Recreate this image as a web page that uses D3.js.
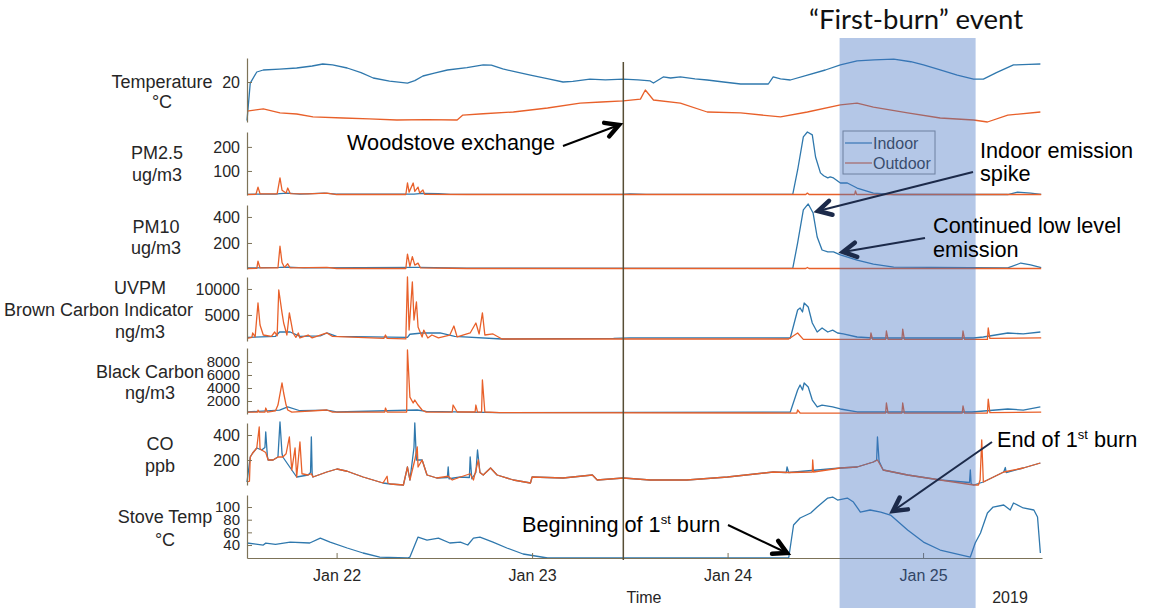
<!DOCTYPE html>
<html>
<head>
<meta charset="utf-8">
<script src="https://cdn.jsdelivr.net/npm/d3@7"></script>
<style>
body { margin: 0; background: #fff; }
svg { display: block; font-family: "Liberation Sans", Arial, sans-serif; }
</style>
</head>
<body>
<svg id="plot" width="1152" height="608"></svg>
<script>
// times are hours since Jan 21 2019 00:00
const startHour = 13, endHour = 110.6;
const dayTicks = [24, 48, 72, 96];
const exchangeHour = 59.2;
const burnStart = 85.75, burnEnd = 102.45;
const seriesNames = ["Indoor", "Outdoor"];

const tempIndoor = [[13.0,5.5],[13.4,19.6],[14.2,23.75],[15.0,24.5],[17,24.8],[19.1,25.25],[21,26],[22.3,26.75],[23.5,26.4],[25.3,25.25],[27,23.5],[28.5,21.5],[30.5,20.3],[32.7,19.6],[33.6,20.5],[34.6,22.25],[36,23.3],[37.6,24.5],[40,25.4],[42.0,26.4],[43,26.3],[44.4,24.9],[46,23.8],[47.8,22.6],[50,21.2],[51.8,20.0],[53,20.2],[55.1,21.1],[57,20.8],[59.2,21.1],[61,20.8],[62.5,20.4],[62.9,19.6],[64.1,21.9],[65,21.5],[66.2,21.9],[68,21.2],[69.5,20.75],[71.5,20.0],[73.6,19.25],[77.0,19.25],[77.6,21.9],[78.5,21.2],[79.7,20.75],[81.8,22.6],[84,24.5],[85.85,26.4],[87.9,27.9],[90,28.3],[92.4,28.6],[94.5,27.6],[96.05,26.4],[98,24.6],[100.2,22.6],[102.2,21.1],[103.4,21.1],[105,23.5],[107.1,26.4],[109,26.6],[110.4,26.75]];
const tempOutdoor = [[13.0,9.1],[15.0,9.9],[17.05,8.4],[19.1,8.0],[21.1,6.9],[24.8,6.5],[28,6.2],[31.4,5.75],[35,5.9],[38.8,5.75],[39.5,7.6],[42,8.1],[45.7,8.75],[49.9,10.25],[53.9,12.1],[56.5,12.5],[59.2,12.9],[61.3,13.6],[61.9,17.0],[62.9,13.25],[66.2,12.1],[69.5,8.75],[73.6,8.4],[78.5,6.9],[81.8,8.75],[85.85,11.4],[87.9,12.1],[89.9,10.6],[94.1,8.4],[98.1,6.5],[102.2,5.75],[103.9,5.0],[106.4,7.6],[110.4,8.75]];

const pm25Indoor = [[13.0,3],[16.5,4],[17.0,6],[18.0,8],[19.5,4],[22.5,8],[24,4],[33.5,4],[34.5,7],[36.5,6],[38,3],[59,3],[60,5],[62,3],[80.0,3],[80.6,104],[81.3,242],[81.8,262],[82.4,250],[82.8,158],[83.4,92],[83.8,80],[84.3,71],[84.6,75],[85.0,71],[85.85,50],[86.7,50],[87.9,29],[89.9,8],[92.4,2],[106.4,2],[107.6,12],[109.2,8],[110.5,3]];
const pm25Outdoor = [[13.0,2],[14.1,3],[14.35,33],[14.6,5],[16.7,5],[17.05,71],[17.3,20],[17.8,8],[18.0,29],[18.3,6],[20.5,5],[22.8,8],[24,2],[32.5,2],[32.7,50],[32.9,12],[33.4,50],[33.6,15],[34.0,33],[34.2,8],[34.6,21],[34.8,3],[40,2],[81.6,2],[81.8,8],[82,2],[87.6,2],[87.7,17],[87.85,2],[110.5,2]];

const pm10Indoor = [[13.0,8],[17,12],[18,15],[20,8],[34,12],[36,10],[40,6],[80.0,5],[80.6,200],[81.3,454],[81.9,500],[82.5,430],[83.0,246],[83.6,146],[84.3,131],[85.0,131],[85.85,108],[87.9,69],[89.9,38],[92.4,15],[106.4,8],[108.0,46],[109.2,31],[110.5,10]];
const pm10Outdoor = [[13.0,4],[14.2,5],[14.35,60],[14.6,8],[16.8,8],[17.05,175],[17.3,50],[17.6,12],[18.0,40],[18.3,8],[22.8,12],[24,4],[32.5,4],[32.7,115],[33.0,20],[33.3,95],[33.6,30],[34.0,45],[34.3,8],[40,4],[81.6,4],[81.8,12],[82,4],[110.5,4]];

const uvpmIndoor = [[13.0,700],[16.5,900],[17.0,1730],[18.3,1730],[19.5,900],[22.0,1000],[22.8,1540],[24,900],[32.7,700],[33.0,1300],[34.5,1540],[36.7,1540],[38.5,900],[44.3,380],[58,500],[60,600],[79.7,580],[80.6,5960],[80.9,6350],[81.2,5580],[81.4,7300],[81.9,6540],[82.4,3460],[83.0,1730],[83.6,2500],[84.3,1730],[84.9,2100],[85.5,1540],[86.2,1350],[87.9,770],[89.9,580],[102.2,580],[103.4,770],[106.4,1540],[108.3,1350],[110.4,1730]];
const uvpmOutdoor = [[13.0,500],[13.6,700],[13.7,1540],[14.0,800],[14.35,7300],[14.6,3080],[15.0,1150],[16.0,900],[16.4,1730],[16.7,1000],[16.9,9800],[17.3,5400],[17.5,3460],[17.9,1150],[18.2,5400],[18.65,1540],[19.0,700],[19.3,1540],[19.5,580],[20.5,1150],[21.0,600],[22.8,1540],[23.5,900],[29.8,500],[30.0,1150],[30.2,500],[32.5,400],[32.7,12300],[32.9,2100],[33.3,11350],[33.5,4040],[33.8,7500],[34.0,2700],[34.5,770],[34.7,2100],[35.2,580],[35.7,1150],[36.5,600],[37.9,1150],[38.4,2880],[38.8,770],[40.4,1540],[41.1,3460],[41.5,1350],[41.9,5400],[42.2,1150],[43.2,1350],[44.3,380],[79.5,380],[80.6,1540],[81.3,300],[89.5,300],[89.6,1540],[89.8,300],[91.4,300],[91.5,1920],[91.7,300],[93.4,300],[93.5,2300],[93.7,300],[100.8,300],[100.9,1920],[101.1,300],[103.9,300],[104.0,2500],[104.2,500],[110.5,600]];

const bcIndoor = [[13.0,310],[17.0,600],[18.0,1080],[19.5,500],[22.8,600],[24,310],[33.9,615],[35,400],[44,200],[79.7,310],[80.6,3690],[80.9,4460],[81.2,3690],[81.4,4770],[81.9,4150],[82.4,2150],[83.0,1080],[83.6,1380],[84.9,1080],[85.85,770],[87.9,310],[102,310],[106.4,770],[108.3,600],[110.4,1080]];
const bcOutdoor = [[13.0,300],[14.3,300],[14.35,600],[14.5,300],[15.2,300],[15.3,920],[15.5,300],[16.5,500],[16.8,1380],[17.3,4770],[17.5,3230],[17.8,1380],[18.0,615],[18.5,300],[22.8,615],[23.5,300],[29.9,300],[30.0,920],[30.2,300],[32.6,300],[32.7,9850],[33.0,2600],[33.4,1690],[33.6,2150],[34.0,1380],[34.5,615],[35.0,300],[38.2,300],[38.3,1380],[38.8,310],[41.0,310],[41.1,1380],[41.3,300],[41.8,300],[41.9,5230],[42.2,310],[44,200],[80.5,150],[80.6,615],[80.9,150],[91.4,150],[91.5,1690],[91.7,150],[93.4,150],[93.5,1690],[93.7,150],[100.8,150],[100.9,1230],[101.1,150],[103.9,150],[104.0,2300],[104.2,200],[110.5,300]];

const coIndoor = [[13.0,24],[13.4,224],[13.7,256],[14.2,296],[14.8,280],[15.2,300],[15.3,424],[15.5,230],[15.6,200],[16.2,200],[16.8,224],[17.05,504],[17.3,250],[17.4,224],[18.5,120],[19.1,64],[20.5,80],[20.8,100],[20.9,384],[21.0,90],[21.1,64],[22.8,104],[24.05,128],[25.3,110],[27.25,64],[29.7,16],[30.6,8],[32.2,0],[32.7,144],[33.0,40],[33.5,300],[33.6,496],[33.8,200],[34.5,200],[35.1,80],[36.3,56],[37.6,60],[37.7,144],[37.8,50],[39.2,64],[40.3,60],[40.4,224],[40.6,50],[41.1,100],[41.3,280],[41.6,100],[42.0,80],[42.9,136],[43.7,80],[45.7,40],[47.8,16],[48.0,64],[51.8,56],[55.4,80],[56.0,40],[59.2,56],[62.5,40],[67,40],[72.0,64],[77.6,104],[79.2,100],[79.3,144],[79.5,100],[85.85,136],[87.9,144],[89.9,184],[90.3,200],[90.4,384],[90.6,190],[91.1,120],[94.1,80],[98.1,40],[101.7,20],[101.8,120],[101.9,10],[102.2,0],[103.4,24],[105.9,104],[106.1,140],[106.2,100],[108.3,136],[110.4,176]];
const coOutdoor = [[13.0,24],[13.3,30],[13.4,224],[13.7,256],[14.2,296],[14.5,464],[14.6,290],[14.8,280],[15.3,260],[15.6,200],[16.2,200],[16.8,224],[17.4,224],[17.8,250],[18.2,384],[18.4,200],[18.5,120],[18.9,296],[19.1,64],[19.5,344],[19.75,90],[20.5,80],[20.9,90],[21.1,64],[22.8,104],[24.05,128],[25.3,110],[27.25,64],[29.7,16],[30.2,70],[30.3,16],[30.6,8],[32.2,0],[32.7,144],[33.0,40],[33.6,200],[33.9,304],[34.0,144],[34.5,200],[35.1,80],[36.3,56],[37.7,70],[38.2,40],[39.2,64],[40.4,90],[40.8,40],[41.4,200],[41.6,100],[42.0,80],[42.9,136],[43.7,80],[45.7,40],[47.8,16],[48.0,64],[51.8,56],[55.4,80],[56.0,40],[59.2,56],[62.5,40],[67,40],[72.0,64],[77.6,104],[79.5,100],[82.4,104],[82.45,200],[82.55,104],[85.85,136],[87.9,144],[89.9,184],[90.4,200],[91.1,120],[94.1,80],[98.1,40],[102.2,0],[102.8,0],[103.0,40],[103.2,360],[103.4,24],[105.9,104],[108.3,136],[110.4,176]];

const stoveIndoor = [[13.0,43.2],[15.0,40],[15.3,43],[16.5,41],[18.3,44.7],[20.7,43.2],[22.0,51],[23.2,44.7],[25.3,35.3],[27.25,27.4],[29.3,21],[32.7,19.5],[33.0,21],[34.0,52.6],[35.1,47.9],[36.5,51],[37.9,43.2],[39.2,44.7],[40.1,40],[40.8,51],[41.6,52.6],[43.2,44.7],[44.9,35.3],[46.9,25.8],[49.9,19.5],[79.5,19.5],[80.1,71.6],[80.9,82.7],[82.2,90.6],[83.0,100],[84.3,114.2],[84.9,115.8],[85.5,111],[86.7,114.2],[87.45,107.9],[88.3,92.1],[89.5,95.3],[90.8,92.1],[92.0,87.4],[94.1,63.7],[96.05,44.7],[98.1,32.1],[100.2,25.8],[101.8,21],[102.4,43.2],[103.05,59],[103.9,90.6],[104.6,100],[105.9,103.2],[106.7,95.3],[107.1,106.4],[108.3,98.5],[109.6,95.3],[110.05,84.2],[110.4,27.4]];

const svg = d3.select("#plot");
const left = 247, right = 1042;
const blue = "#2f78ad", orange = "#e8602a", axisCol = "#7d7358";
const base = new Date(2019, 0, 21);
const toDate = h => new Date(+base + h * 3600e3);

const x = d3.scaleTime().domain([toDate(startHour), toDate(endHour)]).range([left, right]);

// panel layout
const panels = [
  {lines: ["Temperature", "°C"], top: 58, bottom: 122, domain: [5, 29], ticks: [20], fs: 16, lx: 162, ly: [88, 108], series: [tempIndoor, tempOutdoor]},
  {lines: ["PM2.5", "ug/m3"], top: 132, bottom: 195, domain: [0, 262], ticks: [100, 200], fs: 16, lx: 157, ly: [159, 181], series: [pm25Indoor, pm25Outdoor]},
  {lines: ["PM10", "ug/m3"], top: 205, bottom: 269, domain: [0, 492], ticks: [200, 400], fs: 16, lx: 156, ly: [233, 254], series: [pm10Indoor, pm10Outdoor]},
  {lines: ["UVPM", "Brown Carbon Indicator", "ng/m3"], top: 277, bottom: 341, domain: [0, 12300], ticks: [5000, 10000], fs: 16, lx: 140, ly: [294, 316, 338], series: [uvpmIndoor, uvpmOutdoor]},
  {lines: ["Black Carbon", "ng/m3"], top: 348, bottom: 414, domain: [0, 10150], ticks: [2000, 4000, 6000, 8000], fs: 15, lx: 150, ly: [378, 399], series: [bcIndoor, bcOutdoor]},
  {lines: ["CO", "ppb"], top: 423, bottom: 485, domain: [0, 496], ticks: [200, 400], fs: 16, lx: 160, ly: [450, 472], series: [coIndoor, coOutdoor]},
  {lines: ["Stove Temp", "°C"], top: 495, bottom: 558, domain: [19.5, 119], ticks: [40, 60, 80, 100], fs: 15, lx: 165, ly: [523, 546], series: [stoveIndoor]}
];

panels.forEach(function(p) {
  const y = d3.scaleLinear().domain(p.domain).range([p.bottom, p.top]);
  const line = d3.line().x(d => x(toDate(d[0]))).y(d => y(d[1]));
  p.series.forEach(function(s, i) {
    svg.append("path").datum(s)
      .attr("d", line)
      .attr("fill", "none")
      .attr("stroke", i == 0 ? blue : orange)
      .attr("stroke-width", 1.3)
      .attr("stroke-linejoin", "round");
  });
  const ax = svg.append("g")
    .attr("transform", "translate(" + left + ",0)")
    .call(d3.axisLeft(y).tickValues(p.ticks).tickFormat(d3.format("d")).tickSize(-5).tickSizeOuter(0).tickPadding(7));
  ax.select(".domain").attr("stroke", axisCol).attr("stroke-width", 1.2);
  ax.selectAll(".tick line").attr("stroke", axisCol);
  ax.selectAll(".tick text").attr("fill", "#262626").style("font-size", p.fs + "px").style("font-family", "Liberation Sans, Arial, sans-serif");
  p.lines.forEach(function(t, i) {
    const txt = svg.append("text")
      .attr("y", p.ly[i])
      .attr("fill", "#262626")
      .style("font-size", "18px")
      .text(t);
    if (t == "Brown Carbon Indicator") txt.attr("x", 193).attr("text-anchor", "end");
    else txt.attr("x", p.lx).attr("text-anchor", "middle");
  });
});

// x axis on the last panel
const xa = svg.append("g")
  .attr("transform", "translate(0,558)")
  .call(d3.axisBottom(x).tickValues(dayTicks.map(toDate)).tickFormat(d3.timeFormat("%b %d")).tickSize(-5).tickSizeOuter(0).tickPadding(12));
xa.select(".domain").attr("stroke", axisCol).attr("stroke-width", 1.2);
xa.selectAll(".tick line").attr("stroke", axisCol);
xa.selectAll(".tick text").attr("fill", "#262626").style("font-size", "16px").style("font-family", "Liberation Sans, Arial, sans-serif");

svg.append("text").attr("x", 644).attr("y", 603).attr("text-anchor", "middle")
  .attr("fill", "#262626").style("font-size", "16px").text("Time");
svg.append("text").attr("x", 1010).attr("y", 603).attr("text-anchor", "middle")
  .attr("fill", "#262626").style("font-size", "16px").text("2019");

// woodstove exchange line
svg.append("line")
  .attr("x1", x(toDate(exchangeHour))).attr("x2", x(toDate(exchangeHour)))
  .attr("y1", 62).attr("y2", 560)
  .attr("stroke", "#574e35").attr("stroke-width", 1.5);

// legend
svg.append("rect").attr("x", 843).attr("y", 131).attr("width", 92).attr("height", 43)
  .attr("fill", "#fff").attr("stroke", "#8a8a8a");
seriesNames.forEach(function(n, i) {
  const ly = 143 + i * 20;
  svg.append("line").attr("x1", 845).attr("x2", 872).attr("y1", ly).attr("y2", ly)
    .attr("stroke", i == 0 ? blue : orange).attr("stroke-width", 1.2);
  svg.append("text").attr("x", 873).attr("y", ly + 6).attr("fill", "#333")
    .style("font-size", "16px").text(n);
});

// first-burn highlight
svg.append("rect")
  .attr("x", x(toDate(burnStart))).attr("y", 38)
  .attr("width", x(toDate(burnEnd)) - x(toDate(burnStart))).attr("height", 570)
  .attr("fill", "#4472c4").attr("opacity", 0.4);
svg.append("text").attr("x", 916).attr("y", 29).attr("text-anchor", "middle")
  .attr("fill", "#111").style("font-size", "27.5px").style("font-family", "Lato, 'Open Sans', sans-serif")
  .text("\u201cFirst-burn\u201d event");

// annotations
function arrow(x1, y1, x2, y2, col) {
  const a = Math.atan2(y2 - y1, x2 - x1), len = 15;
  svg.append("line").attr("x1", x1).attr("y1", y1).attr("x2", x2).attr("y2", y2)
    .attr("stroke", col).attr("stroke-width", 2);
  svg.append("path")
    .attr("d", "M" + (x2 - len * Math.cos(a - 0.5)) + "," + (y2 - len * Math.sin(a - 0.5)) +
      "L" + x2 + "," + y2 + "L" + (x2 - len * Math.cos(a + 0.5)) + "," + (y2 - len * Math.sin(a + 0.5)))
    .attr("fill", "none").attr("stroke", col).attr("stroke-width", 4.5)
    .attr("stroke-linecap", "round").attr("stroke-linejoin", "miter");
}
function note(tx, ty, parts) {
  const t = svg.append("text").attr("x", tx).attr("y", ty).attr("fill", "#000").style("font-size", "21.7px");
  parts.forEach(function(p) {
    if (p.sup) t.append("tspan").attr("dy", -8).style("font-size", "13px").text(p.sup);
    else if (p.after) t.append("tspan").attr("dy", 8).text(p.after);
    else t.append("tspan").text(p.t);
  });
}
note(347, 150, [{t: "Woodstove exchange"}]);
arrow(563, 146, 619, 125, "#000");
note(980, 158, [{t: "Indoor emission"}]);
note(980, 181, [{t: "spike"}]);
arrow(973, 172, 818, 211, "#1c2a4a");
note(933, 233, [{t: "Continued low level"}]);
note(933, 257, [{t: "emission"}]);
arrow(925, 238, 843, 252, "#1c2a4a");
note(997, 447, [{t: "End of 1"}, {sup: "st"}, {after: " burn"}]);
arrow(992, 442, 893, 511, "#1c2a4a");
note(522, 532, [{t: "Beginning of 1"}, {sup: "st"}, {after: " burn"}]);
arrow(728, 525, 787, 553, "#000");
</script>
</body>
</html>
